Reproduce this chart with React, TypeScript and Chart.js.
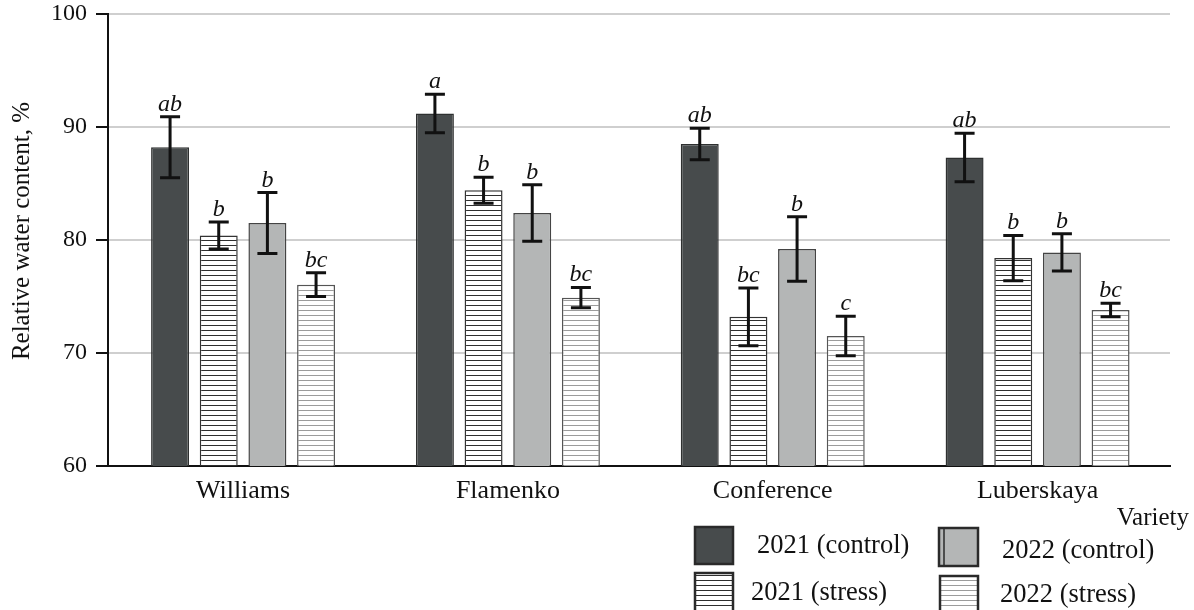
import React, { useEffect, useRef } from "react";
import { Chart, registerables } from "chart.js";

Chart.register(...registerables);

// Varieties on the x axis
const varieties = ["Williams", "Flamenko", "Conference", "Luberskaya"];

// Series labels
const seriesLabels = ["2021 (control)", "2021 (stress)", "2022 (control)", "2022 (stress)"];

// Relative water content, % (mean per variety)
const control2021 = [88.2, 91.2, 88.5, 87.3];
const stress2021 = [80.4, 84.4, 73.2, 78.4];
const control2022 = [81.5, 82.4, 79.2, 78.9];
const stress2022 = [76.05, 74.9, 71.5, 73.8];

// Error bar half-widths
const control2021Err = [2.7, 1.7, 1.4, 2.15];
const stress2021Err = [1.2, 1.15, 2.55, 2.0];
const control2022Err = [2.7, 2.5, 2.85, 1.65];
const stress2022Err = [1.05, 0.9, 1.75, 0.6];

// Significance letters
const control2021Letters = ["ab", "a", "ab", "ab"];
const stress2021Letters = ["b", "b", "bc", "b"];
const control2022Letters = ["b", "b", "b", "b"];
const stress2022Letters = ["bc", "bc", "c", "bc"];

// Y axis tick values
const yTicks = [60, 70, 80, 90, 100];

const SERIF = "'Liberation Serif', 'Times New Roman', serif";

function stripePattern(bg: string, line: string, period: number, lineW: number) {
  const c = document.createElement("canvas");
  c.width = 8;
  c.height = period;
  const g = c.getContext("2d")!;
  g.fillStyle = bg;
  g.fillRect(0, 0, 8, period);
  g.fillStyle = line;
  g.fillRect(0, 0, 8, lineW);
  return g.createPattern(c, "repeat")!;
}

export default function App() {
  const canvasRef = useRef<HTMLCanvasElement | null>(null);

  useEffect(() => {
    const canvas = canvasRef.current;
    if (!canvas) return;

    const stress21Fill = stripePattern("#ffffff", "#2f2f2f", 5, 1);
    const stress22Fill = stripePattern("#ffffff", "#9c9c9c", 5, 1);

    const values = [control2021, stress2021, control2022, stress2022];
    const errors = [control2021Err, stress2021Err, control2022Err, stress2022Err];
    const letters = [control2021Letters, stress2021Letters, control2022Letters, stress2022Letters];
    const fills: (string | CanvasPattern)[] = ["#474b4c", stress21Fill, "#b4b6b6", stress22Fill];
    const borders = ["#2e3030", "#333333", "#444444", "#555555"];

    const datasets = values.map((vals, i) => ({
      label: seriesLabels[i],
      data: vals.map((v, j) => ({ x: j, y: v })),
      backgroundColor: fills[i],
      borderColor: borders[i],
      borderWidth: 1.5,
      categoryPercentage: 0.735,
      barPercentage: 0.78,
    }));

    const errorBars = {
      id: "errorBars",
      afterDatasetsDraw(chart: any) {
        const ctx = chart.ctx;
        const y = chart.scales.y;
        ctx.save();
        chart.data.datasets.forEach((_: any, i: number) => {
          const meta = chart.getDatasetMeta(i);
          meta.data.forEach((bar: any, j: number) => {
            const v = values[i][j];
            const e = errors[i][j];
            const top = y.getPixelForValue(v + e);
            const bot = y.getPixelForValue(v - e);
            const x = bar.x;
            ctx.strokeStyle = "#111";
            ctx.lineWidth = 3;
            ctx.beginPath();
            ctx.moveTo(x, top);
            ctx.lineTo(x, bot);
            ctx.moveTo(x - 10, top);
            ctx.lineTo(x + 10, top);
            ctx.moveTo(x - 10, bot);
            ctx.lineTo(x + 10, bot);
            ctx.stroke();
            ctx.fillStyle = "#111";
            ctx.font = `italic 24px ${SERIF}`;
            ctx.textAlign = "center";
            ctx.textBaseline = "alphabetic";
            ctx.fillText(letters[i][j], x, top - 6);
          });
        });
        ctx.restore();
      },
    };

    const legendAndTitles = {
      id: "legendAndTitles",
      afterDraw(chart: any) {
        const ctx = chart.ctx;
        ctx.save();
        // y axis title
        ctx.fillStyle = "#111";
        ctx.font = `25px ${SERIF}`;
        ctx.textAlign = "center";
        ctx.textBaseline = "middle";
        ctx.translate(22, 231);
        ctx.rotate(-Math.PI / 2);
        ctx.fillText("Relative water content, %", 0, 0);
        ctx.setTransform(1, 0, 0, 1, 0, 0);

        // x axis title
        ctx.font = `25px ${SERIF}`;
        ctx.textAlign = "right";
        ctx.textBaseline = "alphabetic";
        ctx.fillText("Variety", 1189, 525);

        // legend
        const items = [
          { box: [695, 527, 38, 37], text: [757, 553] },
          { box: [695, 573, 38, 40], text: [751, 600] },
          { box: [939, 528, 39, 38], text: [1002, 558] },
          { box: [940, 576, 38, 40], text: [1000, 602] },
        ];
        items.forEach((it, i) => {
          const [bx, by, bw, bh] = it.box;
          ctx.fillStyle = fills[i];
          ctx.fillRect(bx, by, bw, bh);
          ctx.strokeStyle = "#2a2a2a";
          ctx.lineWidth = 2.5;
          ctx.strokeRect(bx, by, bw, bh);
          if (i === 2) {
            ctx.lineWidth = 1.5;
            ctx.beginPath();
            ctx.moveTo(bx + 5, by);
            ctx.lineTo(bx + 5, by + bh);
            ctx.stroke();
          }
          ctx.fillStyle = "#111";
          ctx.font = `26.5px ${SERIF}`;
          ctx.textAlign = "left";
          ctx.fillText(seriesLabels[i], it.text[0], it.text[1]);
        });
        ctx.restore();
      },
    };

    const chart = new Chart(canvas, {
      type: "bar",
      data: { datasets },
      options: {
        animation: false,
        responsive: false,
        layout: { padding: { top: 14, right: 24, left: 0, bottom: 0 } },
        plugins: {
          legend: { display: false },
          tooltip: { enabled: false },
        },
        scales: {
          x: {
            type: "linear",
            offset: false,
            min: -0.51,
            max: 3.5,
            afterBuildTicks: (scale: any) => {
              scale.ticks = varieties.map((_, i) => ({ value: i }));
            },
            afterFit: (scale: any) => {
              scale.height = 144;
              scale.paddingLeft = 0;
              scale.paddingRight = 0;
            },
            ticks: {
              callback: (v: any) => varieties[v] ?? "",
              font: { family: SERIF, size: 26 },
              color: "#111",
              padding: 10,
              maxRotation: 0,
              autoSkip: false,
            },
            grid: { display: false, drawTicks: false, offset: false },
            border: { color: "#111", width: 2 },
          },
          y: {
            min: 60,
            max: 100,
            afterBuildTicks: (scale: any) => {
              scale.ticks = yTicks.map((v) => ({ value: v }));
            },
            afterFit: (scale: any) => {
              scale.width = 108;
              scale.paddingTop = 0;
              scale.paddingBottom = 0;
            },
            ticks: {
              font: { family: SERIF, size: 24 },
              color: "#111",
              padding: 9,
            },
            grid: {
              color: "#cfcfcf",
              lineWidth: 2,
              tickColor: "#111",
              tickLength: 12,
              tickWidth: 2,
            },
            border: { color: "#111", width: 2 },
          },
        },
      },
      plugins: [errorBars, legendAndTitles],
    } as any);

    return () => chart.destroy();
  }, []);

  return (
    <div style={{ position: "absolute", left: 0, top: 0, width: 1194, height: 610, background: "#fff" }}>
      <canvas ref={canvasRef} width={1194} height={610} />
    </div>
  );
}
